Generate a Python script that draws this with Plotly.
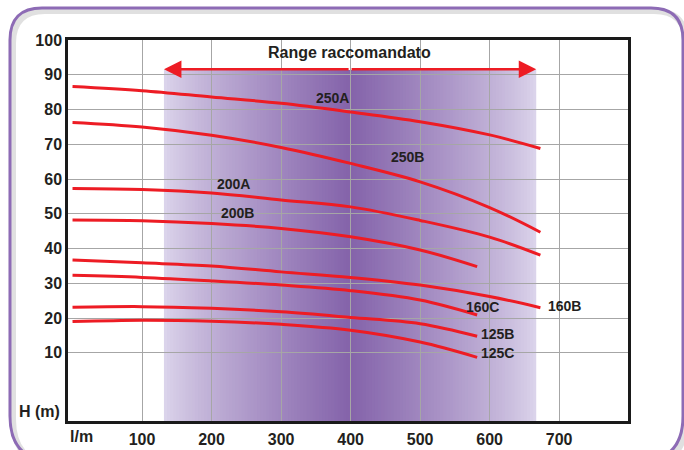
import plotly.graph_objects as go

# pump curves: flow (l/m) vs head H (m)
q_long = [0, 100, 200, 300, 400, 500, 600, 673]
q_short = [0, 100, 200, 300, 400, 500, 582]

h_250A = [86.6, 85.4, 83.6, 81.8, 79.3, 76.5, 72.7, 68.8]
h_250B = [76.3, 75.0, 72.6, 69.1, 64.5, 59.2, 51.8, 44.7]
h_200A = [57.3, 57.0, 56.0, 54.0, 52.0, 48.1, 43.3, 38.1]
h_160B = [36.7, 35.9, 35.0, 33.3, 31.7, 29.5, 26.2, 23.0]
h_200B = [48.2, 48.0, 47.2, 45.8, 43.4, 39.6, 34.8]
h_160C = [32.3, 31.7, 30.7, 29.5, 27.9, 25.2, 20.9]
h_125B = [23.1, 23.3, 22.8, 21.8, 20.2, 18.4, 14.8]
h_125C = [19.0, 19.4, 19.1, 18.2, 16.5, 13.1, 8.7]

models = ['250A', '250B', '200A', '200B', '160C', '160B', '125B', '125C']
label_q = [374, 482, 231, 238, 590, 707, 611, 611]
label_h = [83.3, 66.3, 58.6, 50.2, 23.2, 23.5, 15.5, 10.0]

# recommended range
range_q = [131.5, 667]
range_top = 91.4

x_ticks = [100, 200, 300, 400, 500, 600, 700]
y_ticks = [10, 20, 30, 40, 50, 60, 70, 80, 90, 100]

x_range = [-6.5, 799]
y_range = [-9.6, 100]

RED = '#ed1c24'
TXT = '#231f20'
FONT = 'Liberation Sans'

curves = [
    (q_long, h_250A), (q_long, h_250B), (q_long, h_200A), (q_short, h_200B),
    (q_short, h_160C), (q_long, h_160B), (q_short, h_125B), (q_short, h_125C),
]

fig = go.Figure()
for (q, h), name in zip(curves, models):
    fig.add_trace(go.Scatter(x=q, y=h, mode='lines', name=name,
                             line=dict(color=RED, width=3, shape='spline', smoothing=1.0),
                             hoverinfo='x+y+name'))

shapes = []
# gradient band: light at the edges, dark purple in the middle
light = (221, 214, 236)
dark = (132, 99, 170)
n = 120
w = (range_q[1] - range_q[0]) / n
for i in range(n):
    t = (i + 0.5) / n
    f = (1 - abs(2 * t - 1)) ** 0.8
    c = tuple(round(a + (b - a) * f) for a, b in zip(light, dark))
    x0 = range_q[0] + i * w
    shapes.append(dict(type='rect', xref='x', yref='y', layer='below',
                       x0=x0, x1=min(x0 + w * 1.6, range_q[1]),
                       y0=y_range[0], y1=range_top,
                       fillcolor='rgb(%d,%d,%d)' % c, line=dict(width=0)))

# rounded outer frame (pixel coords -> paper coords)
L, R, T, B = 68, 56, 40, 29
W, H = 684, 450
pw, ph = W - L - R, H - T - B


def px(x, y):
    return '%.4f,%.4f' % ((x - L) / pw, (H - B - y) / ph)


def rounded(x0, y0, x1, y1, rt, rb):
    return ('M' + px(x0 + rt, y0) + ' L' + px(x1 - rt, y0) +
            ' Q' + px(x1, y0) + ' ' + px(x1, y0 + rt) +
            ' L' + px(x1, y1 - rb) + ' Q' + px(x1, y1) + ' ' + px(x1 - rb, y1) +
            ' L' + px(x0 + rb, y1) + ' Q' + px(x0, y1) + ' ' + px(x0, y1 - rb) +
            ' L' + px(x0, y0 + rt) + ' Q' + px(x0, y0) + ' ' + px(x0 + rt, y0) + ' Z')


shapes.append(dict(type='path', xref='paper', yref='paper', layer='below',
                   path=rounded(13, 11, 686, 465, 32, 46),
                   line=dict(color='rgba(0,0,0,0.12)', width=6)))
shapes.append(dict(type='path', xref='paper', yref='paper', layer='below',
                   path=rounded(10, 8, 683, 462, 32, 46),
                   line=dict(color='#8d6bb5', width=3)))

annotations = []
for name, q, h in zip(models, label_q, label_h):
    annotations.append(dict(x=q, y=h, text=name, showarrow=False,
                            font=dict(family=FONT, size=14, color=TXT, weight='bold')))

annotations.append(dict(x=399, y=96.3, text='Range raccomandato', showarrow=False,
                        font=dict(family=FONT, size=16, color=TXT, weight='bold')))
mid = (range_q[0] + range_q[1]) / 2
for end in range_q:
    annotations.append(dict(x=end, y=range_top + 0.2, ax=mid, ay=range_top + 0.2,
                            xref='x', yref='y', axref='x', ayref='y', text='',
                            showarrow=True, arrowhead=2, arrowsize=1.4, arrowwidth=2.5,
                            arrowcolor=RED, standoff=0))

annotations.append(dict(x=-0.01, y=0.025, xref='paper', yref='paper', text='H (m)',
                        showarrow=False, xanchor='right', yanchor='middle',
                        font=dict(family=FONT, size=16, color=TXT, weight='bold')))
annotations.append(dict(x=0.0, y=-0.012, xref='paper', yref='paper', text='l/m',
                        showarrow=False, xanchor='left', yanchor='top',
                        font=dict(family=FONT, size=16, color=TXT, weight='bold')))

axis_common = dict(showgrid=True, gridcolor='#a6a6a6', gridwidth=1.2,
                   showline=True, mirror=True, linecolor='#1a1a1a', linewidth=2.5,
                   zeroline=False, ticks='', automargin=False,
                   tickfont=dict(family=FONT, size=16, color=TXT, weight='bold'))

fig.update_xaxes(range=x_range, tickvals=x_ticks, ticklabelstandoff=2, **axis_common)
fig.update_yaxes(range=y_range, tickvals=y_ticks, **axis_common)

fig.update_layout(width=W, height=H, margin=dict(l=L, r=R, t=T, b=B),
                  paper_bgcolor='white', plot_bgcolor='white',
                  showlegend=False, shapes=shapes, annotations=annotations)

# drop the browser's default body margin so the figure sits at the page corner
fig.write_html('out.html', config={'displayModeBar': False},
               post_script="document.body.style.margin='0';")
